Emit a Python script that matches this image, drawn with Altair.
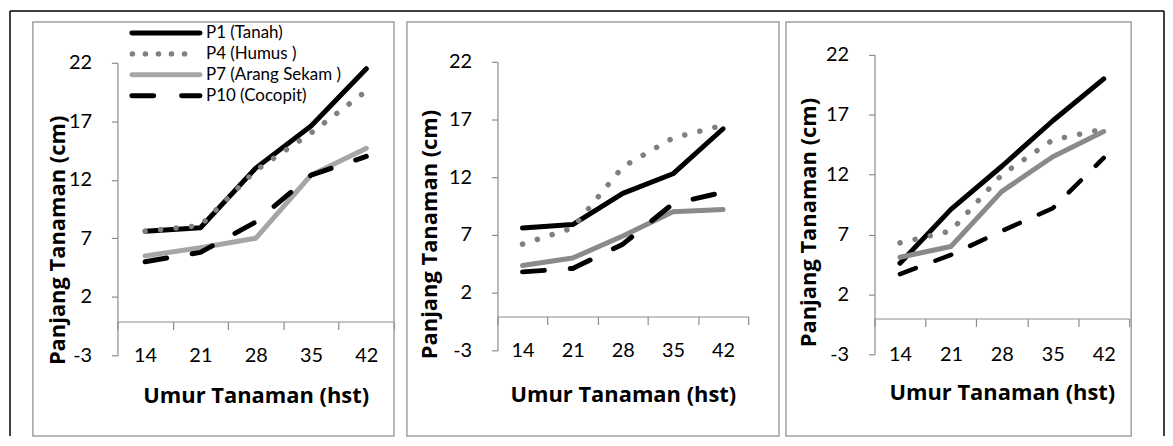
import altair as alt
import pandas as pd

CATS = ["14", "21", "28", "35", "42"]
SERIES = ["P1 (Tanah)", "P4 (Humus )", "P7 (Arang Sekam )", "P10 (Cocopit)"]

# panel 1
P1_A = [7.6, 7.9, 13.0, 16.6, 21.5]
P4_A = [7.6, 8.1, 12.8, 16.0, 19.6]
P7_A = [5.5, 6.2, 7.0, 12.4, 14.7]
P10_A = [5.0, 5.8, 8.4, 12.4, 14.0]
# panel 2
P1_B = [7.6, 7.9, 10.6, 12.3, 16.2]
P4_B = [6.2, 7.6, 12.9, 15.4, 16.5]
P7_B = [4.35, 5.0, 6.9, 9.0, 9.2]
P10_B = [3.8, 4.1, 6.2, 9.7, 10.7]
# panel 3
P1_C = [4.6, 9.1, 12.7, 16.5, 20.0]
P4_C = [6.3, 7.3, 12.0, 14.9, 15.8]
P7_C = [5.1, 6.0, 10.6, 13.5, 15.6]
P10_C = [3.7, 5.3, 7.3, 9.2, 13.4]

Y_TICKS = [-3, 2, 7, 12, 17, 22]
FONT = "Lato"
TFONT = "Open Sans"
AX_GRAY = "#8c8c8c"
BOX_GRAY = "#a0a0a0"

one = pd.DataFrame({"k": [0]})


def series_style(i, p7color, dash10, w10):
    if i == 0:
        return dict(color="black", strokeWidth=5)
    if i == 1:
        return dict(color="#808080", strokeWidth=5.5, strokeDash=[0.1, 15.5])
    if i == 2:
        return dict(color=p7color, strokeWidth=5)
    return dict(color="black", strokeWidth=w10, strokeDash=dash10)


def panel(data, W, VW, H, top, ax_off, lab_pad, xt_y, yt_x, yt_y, box, p7color,
          dash10, w10, extra=None):
    xaxis = alt.Axis(title="Umur Tanaman (hst)", offset=ax_off, tickBand="extent",
                     tickSize=8, tickColor=AX_GRAY, domainColor=AX_GRAY,
                     domainWidth=1.2, tickWidth=1.2,
                     labelPadding=lab_pad, labelBaseline="middle", labelAngle=0,
                     labelFont=FONT, labelFontSize=20, labelColor="black",
                     titleFont=TFONT, titleFontSize=22, titleFontWeight="bold",
                     titleColor="black", titleY=xt_y, titleBaseline="middle",
                     grid=False)
    yaxis = alt.Axis(title="Panjang Tanaman (cm)", values=Y_TICKS, tickSize=6,
                     labelExpr="'' + datum.value",
                     tickColor=AX_GRAY, domainColor=AX_GRAY, domainWidth=1.2,
                     tickWidth=1.2, labelPadding=20, labelFont=FONT,
                     labelFontSize=20, labelColor="black", titleFont=TFONT,
                     titleFontSize=22, titleFontWeight="bold", titleColor="black",
                     titleX=yt_x, titleY=yt_y, titleBaseline="middle",
                     titleAlign="center", grid=False)
    xs = alt.Scale(type="band", domain=CATS, range=[0, W], paddingInner=0, paddingOuter=0)
    ys = alt.Scale(domain=[-3, 22], range=[H, top], nice=False, zero=False)
    layers = []
    bx0, bx1, by0, by1 = box
    layers.append(alt.Chart(one).mark_rect(filled=False, stroke=BOX_GRAY, strokeWidth=1.5).encode(
        x=alt.value(bx0), x2=alt.value(bx1), y=alt.value(by0), y2=alt.value(by1)))
    if extra:
        layers.extend(extra)
    for i, name in enumerate(SERIES):
        df = pd.DataFrame({"umur": CATS, "panjang": data[i], "seri": name})
        st = series_style(i, p7color, dash10, w10)
        layers.append(alt.Chart(df).mark_line(strokeCap="round", strokeJoin="round", **st).encode(
            x=alt.X("umur:O", sort=CATS, scale=xs, axis=xaxis, bandPosition=0.5),
            y=alt.Y("panjang:Q", scale=ys, axis=yaxis)))
    return alt.layer(*layers).properties(width=VW, height=H)


# outer frame and legend (in panel 1 coordinates)
frame = [
    alt.Chart(one).mark_rule(color="black", strokeWidth=1.5).encode(
        x=alt.value(-108), x2=alt.value(1052), y=alt.value(-44)),
    alt.Chart(one).mark_rule(color="black", strokeWidth=1.5).encode(
        x=alt.value(-108), y=alt.value(-44), y2=alt.value(383)),
    alt.Chart(one).mark_rule(color="black", strokeWidth=1.5).encode(
        x=alt.value(1052), y=alt.value(-44), y2=alt.value(383)),
]
legend = []
leg_dash = {1: [0.1, 13], 3: [22, 28]}
for i, name in enumerate(SERIES):
    yy = -22 + 21 * i
    st = series_style(i, "#a6a6a6", [22, 28], 5)
    if i in leg_dash:
        st["strokeDash"] = leg_dash[i]
    x0, x1 = (15, 72) if i == 1 else (14.5, 83)
    legend.append(alt.Chart(one).mark_rule(strokeCap="round", **st).encode(
        x=alt.value(x0), x2=alt.value(x1), y=alt.value(yy)))
    legend.append(alt.Chart(pd.DataFrame({"seri": [name]})).mark_text(
        align="left", baseline="middle", font=FONT, fontSize=17, color="black").encode(
        x=alt.value(89), y=alt.value(yy), text="seri:N"))

p1 = panel([P1_A, P4_A, P7_A, P10_A], W=278, VW=382, H=302, top=8, ax_off=-34,
           lab_pad=26, xt_y=74, yt_x=-60, yt_y=186, box=(-85, 278, -33, 383),
           p7color="#a6a6a6", dash10=[22, 26], w10=5, extra=frame + legend)
p2 = panel([P1_B, P4_B, P7_B, P10_B], W=252, VW=379, H=297, top=7, ax_off=-34,
           lab_pad=26, xt_y=78, yt_x=-68, yt_y=180, box=(-91, 283, -33, 383),
           p7color="#8a8a8a", dash10=[22, 26], w10=5)
p3 = panel([P1_C, P4_C, P7_C, P10_C], W=256, VW=258, H=301, top=0, ax_off=-36,
           lab_pad=28, xt_y=74, yt_x=-66, yt_y=168, box=(-89, 258, -33, 383),
           p7color="#8a8a8a", dash10=[17, 21], w10=4.5)

chart = alt.hconcat(p1, p2, p3, spacing=0, bounds="flush").properties(
    padding={"left": 1, "top": 1, "right": 0, "bottom": 0},
    background="white",
).configure_view(stroke=None)

chart.save("out.html", embed_options={"renderer": "svg", "actions": False})
